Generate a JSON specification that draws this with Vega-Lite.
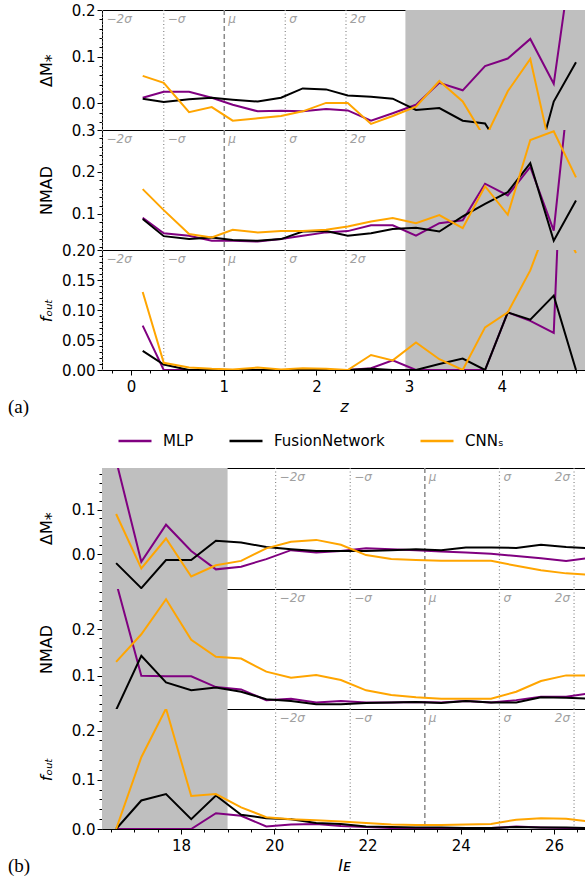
{
  "$schema": "https://vega.github.io/schema/vega-lite/v6.json",
  "padding": {"left": 7, "top": 2, "right": 0, "bottom": 0},
  "background": "white",
  "bounds": "flush",
  "spacing": 0,
  "datasets": {
    "a": [
      {"z": 0.126, "m": "MLP", "dm": 0.012, "nmad": 0.091, "fout": 0.074},
      {"z": 0.353, "m": "MLP", "dm": 0.025, "nmad": 0.054, "fout": 0.0},
      {"z": 0.626, "m": "MLP", "dm": 0.025, "nmad": 0.048, "fout": 0.0},
      {"z": 0.871, "m": "MLP", "dm": 0.012, "nmad": 0.036, "fout": 0.0},
      {"z": 1.097, "m": "MLP", "dm": -0.003, "nmad": 0.036, "fout": 0.0},
      {"z": 1.367, "m": "MLP", "dm": -0.017, "nmad": 0.034, "fout": 0.0},
      {"z": 1.618, "m": "MLP", "dm": -0.016, "nmad": 0.040, "fout": 0.0},
      {"z": 1.852, "m": "MLP", "dm": -0.017, "nmad": 0.048, "fout": 0.0},
      {"z": 2.104, "m": "MLP", "dm": -0.012, "nmad": 0.056, "fout": 0.0},
      {"z": 2.338, "m": "MLP", "dm": -0.015, "nmad": 0.059, "fout": 0.0},
      {"z": 2.589, "m": "MLP", "dm": -0.037, "nmad": 0.073, "fout": 0.003},
      {"z": 2.823, "m": "MLP", "dm": -0.021, "nmad": 0.073, "fout": 0.016},
      {"z": 3.074, "m": "MLP", "dm": -0.003, "nmad": 0.048, "fout": 0.0},
      {"z": 3.326, "m": "MLP", "dm": 0.044, "nmad": 0.078, "fout": 0.0},
      {"z": 3.578, "m": "MLP", "dm": 0.028, "nmad": 0.085, "fout": 0.0},
      {"z": 3.819, "m": "MLP", "dm": 0.080, "nmad": 0.172, "fout": 0.0},
      {"z": 4.064, "m": "MLP", "dm": 0.096, "nmad": 0.144, "fout": 0.096},
      {"z": 4.307, "m": "MLP", "dm": 0.138, "nmad": 0.212, "fout": 0.082},
      {"z": 4.560, "m": "MLP", "dm": 0.042, "nmad": 0.060, "fout": 0.062},
      {"z": 4.800, "m": "MLP", "dm": 0.38, "nmad": 0.56, "fout": 0.95},
      {"z": 0.126, "m": "FusionNetwork", "dm": 0.010, "nmad": 0.088, "fout": 0.032},
      {"z": 0.353, "m": "FusionNetwork", "dm": 0.003, "nmad": 0.047, "fout": 0.009},
      {"z": 0.626, "m": "FusionNetwork", "dm": 0.009, "nmad": 0.040, "fout": 0.0},
      {"z": 0.871, "m": "FusionNetwork", "dm": 0.012, "nmad": 0.044, "fout": 0.0},
      {"z": 1.097, "m": "FusionNetwork", "dm": 0.008, "nmad": 0.038, "fout": 0.0},
      {"z": 1.367, "m": "FusionNetwork", "dm": 0.004, "nmad": 0.036, "fout": 0.0},
      {"z": 1.618, "m": "FusionNetwork", "dm": 0.012, "nmad": 0.040, "fout": 0.0},
      {"z": 1.852, "m": "FusionNetwork", "dm": 0.032, "nmad": 0.058, "fout": 0.0},
      {"z": 2.104, "m": "FusionNetwork", "dm": 0.030, "nmad": 0.059, "fout": 0.0},
      {"z": 2.338, "m": "FusionNetwork", "dm": 0.017, "nmad": 0.048, "fout": 0.0},
      {"z": 2.589, "m": "FusionNetwork", "dm": 0.014, "nmad": 0.054, "fout": 0.002},
      {"z": 2.823, "m": "FusionNetwork", "dm": 0.010, "nmad": 0.064, "fout": 0.0},
      {"z": 3.074, "m": "FusionNetwork", "dm": -0.014, "nmad": 0.067, "fout": 0.0},
      {"z": 3.326, "m": "FusionNetwork", "dm": -0.010, "nmad": 0.058, "fout": 0.010},
      {"z": 3.578, "m": "FusionNetwork", "dm": -0.037, "nmad": 0.094, "fout": 0.019},
      {"z": 3.819, "m": "FusionNetwork", "dm": -0.043, "nmad": 0.124, "fout": 0.0},
      {"z": 4.064, "m": "FusionNetwork", "dm": -0.12, "nmad": 0.152, "fout": 0.096},
      {"z": 4.307, "m": "FusionNetwork", "dm": -0.18, "nmad": 0.221, "fout": 0.084},
      {"z": 4.560, "m": "FusionNetwork", "dm": 0.004, "nmad": 0.036, "fout": 0.124},
      {"z": 4.800, "m": "FusionNetwork", "dm": 0.088, "nmad": 0.132, "fout": 0.0},
      {"z": 0.126, "m": "CNNₛ", "dm": 0.059, "nmad": 0.159, "fout": 0.130},
      {"z": 0.353, "m": "CNNₛ", "dm": 0.044, "nmad": 0.109, "fout": 0.012},
      {"z": 0.626, "m": "CNNₛ", "dm": -0.019, "nmad": 0.052, "fout": 0.004},
      {"z": 0.871, "m": "CNNₛ", "dm": -0.008, "nmad": 0.044, "fout": 0.002},
      {"z": 1.097, "m": "CNNₛ", "dm": -0.037, "nmad": 0.062, "fout": 0.001},
      {"z": 1.367, "m": "CNNₛ", "dm": -0.032, "nmad": 0.056, "fout": 0.004},
      {"z": 1.618, "m": "CNNₛ", "dm": -0.027, "nmad": 0.059, "fout": 0.001},
      {"z": 1.852, "m": "CNNₛ", "dm": -0.017, "nmad": 0.059, "fout": 0.003},
      {"z": 2.104, "m": "CNNₛ", "dm": 0.001, "nmad": 0.062, "fout": 0.002},
      {"z": 2.338, "m": "CNNₛ", "dm": 0.001, "nmad": 0.070, "fout": 0.0},
      {"z": 2.589, "m": "CNNₛ", "dm": -0.044, "nmad": 0.082, "fout": 0.025},
      {"z": 2.823, "m": "CNNₛ", "dm": -0.027, "nmad": 0.090, "fout": 0.016},
      {"z": 3.074, "m": "CNNₛ", "dm": -0.007, "nmad": 0.078, "fout": 0.046},
      {"z": 3.326, "m": "CNNₛ", "dm": 0.048, "nmad": 0.097, "fout": 0.018},
      {"z": 3.578, "m": "CNNₛ", "dm": 0.004, "nmad": 0.066, "fout": 0.0},
      {"z": 3.819, "m": "CNNₛ", "dm": -0.075, "nmad": 0.166, "fout": 0.071},
      {"z": 4.064, "m": "CNNₛ", "dm": 0.026, "nmad": 0.098, "fout": 0.096},
      {"z": 4.307, "m": "CNNₛ", "dm": 0.095, "nmad": 0.276, "fout": 0.166},
      {"z": 4.560, "m": "CNNₛ", "dm": -0.13, "nmad": 0.297, "fout": 0.27},
      {"z": 4.800, "m": "CNNₛ", "dm": -0.10, "nmad": 0.187, "fout": 0.195}
    ],
    "b": [
      {"ie": 16.61, "m": "MLP", "dm": 0.21, "nmad": 0.30, "fout": 0.0},
      {"ie": 17.15, "m": "MLP", "dm": -0.017, "nmad": 0.100, "fout": 0.0},
      {"ie": 17.68, "m": "MLP", "dm": 0.066, "nmad": 0.099, "fout": 0.0},
      {"ie": 18.22, "m": "MLP", "dm": 0.007, "nmad": 0.099, "fout": 0.0},
      {"ie": 18.75, "m": "MLP", "dm": -0.034, "nmad": 0.076, "fout": 0.032},
      {"ie": 19.29, "m": "MLP", "dm": -0.028, "nmad": 0.071, "fout": 0.027},
      {"ie": 19.83, "m": "MLP", "dm": -0.011, "nmad": 0.048, "fout": 0.005},
      {"ie": 20.36, "m": "MLP", "dm": 0.009, "nmad": 0.051, "fout": 0.009},
      {"ie": 20.90, "m": "MLP", "dm": 0.004, "nmad": 0.043, "fout": 0.010},
      {"ie": 21.43, "m": "MLP", "dm": 0.007, "nmad": 0.046, "fout": 0.006},
      {"ie": 21.97, "m": "MLP", "dm": 0.013, "nmad": 0.043, "fout": 0.004},
      {"ie": 22.51, "m": "MLP", "dm": 0.011, "nmad": 0.043, "fout": 0.002},
      {"ie": 23.04, "m": "MLP", "dm": 0.009, "nmad": 0.044, "fout": 0.002},
      {"ie": 23.58, "m": "MLP", "dm": 0.006, "nmad": 0.043, "fout": 0.002},
      {"ie": 24.11, "m": "MLP", "dm": 0.004, "nmad": 0.046, "fout": 0.001},
      {"ie": 24.65, "m": "MLP", "dm": 0.001, "nmad": 0.043, "fout": 0.002},
      {"ie": 25.19, "m": "MLP", "dm": -0.004, "nmad": 0.048, "fout": 0.005},
      {"ie": 25.72, "m": "MLP", "dm": -0.009, "nmad": 0.055, "fout": 0.003},
      {"ie": 26.26, "m": "MLP", "dm": -0.015, "nmad": 0.055, "fout": 0.002},
      {"ie": 26.79, "m": "MLP", "dm": -0.008, "nmad": 0.063, "fout": 0.002},
      {"ie": 16.61, "m": "FusionNetwork", "dm": -0.020, "nmad": 0.027, "fout": 0.0},
      {"ie": 17.15, "m": "FusionNetwork", "dm": -0.076, "nmad": 0.143, "fout": 0.058},
      {"ie": 17.68, "m": "FusionNetwork", "dm": -0.013, "nmad": 0.086, "fout": 0.071},
      {"ie": 18.22, "m": "FusionNetwork", "dm": -0.013, "nmad": 0.069, "fout": 0.020},
      {"ie": 18.75, "m": "FusionNetwork", "dm": 0.030, "nmad": 0.075, "fout": 0.068},
      {"ie": 19.29, "m": "FusionNetwork", "dm": 0.026, "nmad": 0.066, "fout": 0.029},
      {"ie": 19.83, "m": "FusionNetwork", "dm": 0.016, "nmad": 0.050, "fout": 0.022},
      {"ie": 20.36, "m": "FusionNetwork", "dm": 0.011, "nmad": 0.046, "fout": 0.020},
      {"ie": 20.90, "m": "FusionNetwork", "dm": 0.007, "nmad": 0.039, "fout": 0.012},
      {"ie": 21.43, "m": "FusionNetwork", "dm": 0.007, "nmad": 0.039, "fout": 0.010},
      {"ie": 21.97, "m": "FusionNetwork", "dm": 0.007, "nmad": 0.042, "fout": 0.005},
      {"ie": 22.51, "m": "FusionNetwork", "dm": 0.009, "nmad": 0.043, "fout": 0.004},
      {"ie": 23.04, "m": "FusionNetwork", "dm": 0.011, "nmad": 0.044, "fout": 0.003},
      {"ie": 23.58, "m": "FusionNetwork", "dm": 0.009, "nmad": 0.042, "fout": 0.003},
      {"ie": 24.11, "m": "FusionNetwork", "dm": 0.015, "nmad": 0.046, "fout": 0.002},
      {"ie": 24.65, "m": "FusionNetwork", "dm": 0.015, "nmad": 0.043, "fout": 0.002},
      {"ie": 25.19, "m": "FusionNetwork", "dm": 0.014, "nmad": 0.043, "fout": 0.004},
      {"ie": 25.72, "m": "FusionNetwork", "dm": 0.021, "nmad": 0.054, "fout": 0.003},
      {"ie": 26.26, "m": "FusionNetwork", "dm": 0.016, "nmad": 0.053, "fout": 0.003},
      {"ie": 26.79, "m": "FusionNetwork", "dm": 0.013, "nmad": 0.051, "fout": 0.002},
      {"ie": 16.61, "m": "CNNₛ", "dm": 0.090, "nmad": 0.130, "fout": 0.0},
      {"ie": 17.15, "m": "CNNₛ", "dm": -0.032, "nmad": 0.189, "fout": 0.146},
      {"ie": 17.68, "m": "CNNₛ", "dm": 0.035, "nmad": 0.264, "fout": 0.245},
      {"ie": 18.22, "m": "CNNₛ", "dm": -0.050, "nmad": 0.177, "fout": 0.067},
      {"ie": 18.75, "m": "CNNₛ", "dm": -0.025, "nmad": 0.141, "fout": 0.071},
      {"ie": 19.29, "m": "CNNₛ", "dm": -0.015, "nmad": 0.137, "fout": 0.044},
      {"ie": 19.83, "m": "CNNₛ", "dm": 0.013, "nmad": 0.109, "fout": 0.024},
      {"ie": 20.36, "m": "CNNₛ", "dm": 0.028, "nmad": 0.096, "fout": 0.020},
      {"ie": 20.90, "m": "CNNₛ", "dm": 0.032, "nmad": 0.102, "fout": 0.018},
      {"ie": 21.43, "m": "CNNₛ", "dm": 0.021, "nmad": 0.091, "fout": 0.015},
      {"ie": 21.97, "m": "CNNₛ", "dm": -0.002, "nmad": 0.069, "fout": 0.012},
      {"ie": 22.51, "m": "CNNₛ", "dm": -0.011, "nmad": 0.059, "fout": 0.009},
      {"ie": 23.04, "m": "CNNₛ", "dm": -0.013, "nmad": 0.054, "fout": 0.008},
      {"ie": 23.58, "m": "CNNₛ", "dm": -0.015, "nmad": 0.051, "fout": 0.008},
      {"ie": 24.11, "m": "CNNₛ", "dm": -0.015, "nmad": 0.051, "fout": 0.009},
      {"ie": 24.65, "m": "CNNₛ", "dm": -0.015, "nmad": 0.051, "fout": 0.010},
      {"ie": 25.19, "m": "CNNₛ", "dm": -0.026, "nmad": 0.066, "fout": 0.019},
      {"ie": 25.72, "m": "CNNₛ", "dm": -0.036, "nmad": 0.089, "fout": 0.022},
      {"ie": 26.26, "m": "CNNₛ", "dm": -0.043, "nmad": 0.101, "fout": 0.021},
      {"ie": 26.79, "m": "CNNₛ", "dm": -0.046, "nmad": 0.101, "fout": 0.015}
    ],
    "shadeA": [{"x0": 2.96, "x1": 5.5}],
    "shadeB": [{"x0": 15.5, "x1": 19.0}],
    "sigA": [
      {"x": -0.308, "lab": "−2σ", "kind": "s", "al": "l"},
      {"x": 0.353, "lab": "−σ", "kind": "s", "al": "l"},
      {"x": 1.006, "lab": "μ", "kind": "m", "al": "l"},
      {"x": 1.664, "lab": "σ", "kind": "s", "al": "l"},
      {"x": 2.319, "lab": "2σ", "kind": "s", "al": "l"}
    ],
    "sigB": [
      {"x": 20.03, "lab": "−2σ", "kind": "s", "al": "l"},
      {"x": 21.63, "lab": "−σ", "kind": "s", "al": "l"},
      {"x": 23.23, "lab": "μ", "kind": "m", "al": "l"},
      {"x": 24.83, "lab": "σ", "kind": "s", "al": "l"},
      {"x": 26.43, "lab": "2σ", "kind": "s", "al": "r"}
    ]
  },
  "vconcat": [
    {
      "width": 484, "height": 120,
      "resolve": {"axis": {"x": "independent", "y": "independent"}},
      "layer": [
        {"data": {"name": "a"}, "mark": {"type": "line", "clip": true, "opacity": 0},
         "encoding": {
           "x": {"field": "z", "type": "quantitative", "scale": {"domain": [-0.313, 4.908], "nice": false, "zero": false}, "axis": null},
           "y": {"field": "dm", "type": "quantitative", "scale": {"domain": [-0.057, 0.2], "nice": false, "zero": false},
                 "axis": {"orient": "left", "title": "ΔM⁎", "titleX": -56, "titleY": 60, "titleBaseline": "middle", "titleAlign": "center", "values": [0, 0.1, 0.2], "format": ".1f"}}
         }},
        {"data": {"name": "a"}, "mark": {"type": "line", "clip": true, "opacity": 0},
         "encoding": {
           "x": {"field": "z", "type": "quantitative", "axis": null},
           "y": {"field": "dm", "type": "quantitative",
                 "axis": {"orient": "left", "title": null, "labels": false, "tickSize": 3, "values": [-0.04, -0.02, 0.02, 0.04, 0.06, 0.08, 0.12, 0.14, 0.16, 0.18]}}
         }},
        {"data": {"name": "shadeA"}, "mark": {"type": "rect", "color": "#bfbfbf", "clip": true},
         "encoding": {"x": {"field": "x0", "type": "quantitative", "axis": null}, "x2": {"field": "x1"}}},
        {"data": {"name": "sigA"}, "transform": [{"filter": "datum.kind == 's'"}], "mark": {"type": "rule", "color": "#8a8a8a", "strokeDash": [1, 2.5], "strokeWidth": 1.2},
         "encoding": {"x": {"field": "x", "type": "quantitative", "axis": null}}},
        {"data": {"name": "sigA"}, "transform": [{"filter": "datum.kind == 'm'"}], "mark": {"type": "rule", "color": "#8a8a8a", "strokeDash": [5, 3], "strokeWidth": 1.5},
         "encoding": {"x": {"field": "x", "type": "quantitative", "axis": null}}},
        {"data": {"name": "sigA"}, "mark": {"type": "text", "align": "left", "baseline": "top", "dx": 4, "dy": 4, "fontStyle": "italic", "fontSize": 12, "color": "#a0a0a0"},
         "encoding": {"x": {"field": "x", "type": "quantitative", "axis": null}, "y": {"datum": 0.2, "type": "quantitative", "axis": null}, "text": {"field": "lab"}}},
        {"data": {"name": "a"}, "mark": {"type": "line", "strokeWidth": 2, "clip": true},
         "encoding": {
           "x": {"field": "z", "type": "quantitative", "axis": null},
           "y": {"field": "dm", "type": "quantitative", "axis": null},
           "color": {"field": "m", "type": "nominal", "scale": {"domain": ["MLP", "FusionNetwork", "CNNₛ"], "range": ["#800080", "#000000", "#ffa500"]},
                     "legend": {"title": null, "orient": "none", "legendX": 15, "legendY": 413, "direction": "horizontal", "symbolType": "stroke", "symbolSize": 1089, "symbolStrokeWidth": 2.5, "labelFontSize": 15, "labelFont": "DejaVu Sans", "labelColor": "black", "labelOffset": 10, "columnPadding": 30, "padding": 0}}
         }}
      ]
    },
    {
      "width": 484, "height": 120,
      "resolve": {"axis": {"x": "independent", "y": "independent"}},
      "layer": [
        {"data": {"name": "a"}, "mark": {"type": "line", "clip": true, "opacity": 0},
         "encoding": {
           "x": {"field": "z", "type": "quantitative", "scale": {"domain": [-0.313, 4.908], "nice": false, "zero": false}, "axis": null},
           "y": {"field": "nmad", "type": "quantitative", "scale": {"domain": [0.014, 0.3], "nice": false, "zero": false},
                 "axis": {"orient": "left", "title": "NMAD", "titleX": -56, "titleY": 60, "titleBaseline": "middle", "titleAlign": "center", "values": [0.1, 0.2, 0.3], "format": ".1f"}}
         }},
        {"data": {"name": "a"}, "mark": {"type": "line", "clip": true, "opacity": 0},
         "encoding": {
           "x": {"field": "z", "type": "quantitative", "axis": null},
           "y": {"field": "nmad", "type": "quantitative",
                 "axis": {"orient": "left", "title": null, "labels": false, "tickSize": 3, "values": [0.02, 0.04, 0.06, 0.08, 0.12, 0.14, 0.16, 0.18, 0.22, 0.24, 0.26, 0.28]}}
         }},
        {"data": {"name": "shadeA"}, "mark": {"type": "rect", "color": "#bfbfbf", "clip": true},
         "encoding": {"x": {"field": "x0", "type": "quantitative", "axis": null}, "x2": {"field": "x1"}}},
        {"data": {"name": "sigA"}, "transform": [{"filter": "datum.kind == 's'"}], "mark": {"type": "rule", "color": "#8a8a8a", "strokeDash": [1, 2.5], "strokeWidth": 1.2},
         "encoding": {"x": {"field": "x", "type": "quantitative", "axis": null}}},
        {"data": {"name": "sigA"}, "transform": [{"filter": "datum.kind == 'm'"}], "mark": {"type": "rule", "color": "#8a8a8a", "strokeDash": [5, 3], "strokeWidth": 1.5},
         "encoding": {"x": {"field": "x", "type": "quantitative", "axis": null}}},
        {"data": {"name": "sigA"}, "mark": {"type": "text", "align": "left", "baseline": "top", "dx": 4, "dy": 4, "fontStyle": "italic", "fontSize": 12, "color": "#a0a0a0"},
         "encoding": {"x": {"field": "x", "type": "quantitative", "axis": null}, "y": {"datum": 0.3, "type": "quantitative", "axis": null}, "text": {"field": "lab"}}},
        {"data": {"name": "a"}, "mark": {"type": "line", "strokeWidth": 2, "clip": true},
         "encoding": {
           "x": {"field": "z", "type": "quantitative", "axis": null},
           "y": {"field": "nmad", "type": "quantitative", "axis": null},
           "color": {"field": "m", "type": "nominal", "scale": {"domain": ["MLP", "FusionNetwork", "CNNₛ"], "range": ["#800080", "#000000", "#ffa500"]}}
         }}
      ]
    },
    {
      "width": 484, "height": 120,
      "title": {"text": "(a)", "orient": "bottom", "anchor": "start", "frame": "group", "font": "Liberation Serif", "fontSize": 19, "fontWeight": "normal", "color": "black", "dx": -94, "offset": -16, "baseline": "top"},
      "resolve": {"axis": {"x": "independent", "y": "independent"}},
      "layer": [
        {"data": {"name": "a"}, "mark": {"type": "line", "clip": true, "opacity": 0},
         "encoding": {
           "x": {"field": "z", "type": "quantitative", "scale": {"domain": [-0.313, 4.908], "nice": false, "zero": false},
                 "axis": {"orient": "bottom", "title": "z", "titleFontStyle": "italic", "titlePadding": 4, "labelPadding": 4, "values": [0, 1, 2, 3, 4], "format": "d"}},
           "y": {"field": "fout", "type": "quantitative", "scale": {"domain": [0, 0.2], "nice": false, "zero": false},
                 "axis": {"orient": "left", "title": "fₒᵤₜ", "titleFontStyle": "italic", "titleX": -56, "titleY": 60, "titleBaseline": "middle", "titleAlign": "center", "values": [0, 0.05, 0.1, 0.15, 0.2], "format": ".2f"}}
         }},
        {"data": {"name": "a"}, "mark": {"type": "line", "clip": true, "opacity": 0},
         "encoding": {
           "x": {"field": "z", "type": "quantitative",
                 "axis": {"orient": "bottom", "title": null, "labels": false, "tickSize": 3, "values": [-0.2, 0.2, 0.4, 0.6, 0.8, 1.2, 1.4, 1.6, 1.8, 2.2, 2.4, 2.6, 2.8, 3.2, 3.4, 3.6, 3.8, 4.2, 4.4, 4.6, 4.8]}},
           "y": {"field": "fout", "type": "quantitative",
                 "axis": {"orient": "left", "title": null, "labels": false, "tickSize": 3, "values": [0.01, 0.02, 0.03, 0.04, 0.06, 0.07, 0.08, 0.09, 0.11, 0.12, 0.13, 0.14, 0.16, 0.17, 0.18, 0.19]}}
         }},
        {"data": {"name": "shadeA"}, "mark": {"type": "rect", "color": "#bfbfbf", "clip": true},
         "encoding": {"x": {"field": "x0", "type": "quantitative", "axis": null}, "x2": {"field": "x1"}}},
        {"data": {"name": "sigA"}, "transform": [{"filter": "datum.kind == 's'"}], "mark": {"type": "rule", "color": "#8a8a8a", "strokeDash": [1, 2.5], "strokeWidth": 1.2},
         "encoding": {"x": {"field": "x", "type": "quantitative", "axis": null}}},
        {"data": {"name": "sigA"}, "transform": [{"filter": "datum.kind == 'm'"}], "mark": {"type": "rule", "color": "#8a8a8a", "strokeDash": [5, 3], "strokeWidth": 1.5},
         "encoding": {"x": {"field": "x", "type": "quantitative", "axis": null}}},
        {"data": {"name": "sigA"}, "mark": {"type": "text", "align": "left", "baseline": "top", "dx": 4, "dy": 4, "fontStyle": "italic", "fontSize": 12, "color": "#a0a0a0"},
         "encoding": {"x": {"field": "x", "type": "quantitative", "axis": null}, "y": {"datum": 0.2, "type": "quantitative", "axis": null}, "text": {"field": "lab"}}},
        {"data": {"name": "a"}, "mark": {"type": "line", "strokeWidth": 2, "clip": true},
         "encoding": {
           "x": {"field": "z", "type": "quantitative", "axis": null},
           "y": {"field": "fout", "type": "quantitative", "axis": null},
           "color": {"field": "m", "type": "nominal", "scale": {"domain": ["MLP", "FusionNetwork", "CNNₛ"], "range": ["#800080", "#000000", "#ffa500"]}}
         }}
      ]
    },
    {
      "width": 484, "height": 98,
      "view": {"stroke": null},
      "data": {"values": [{"v": 0}]},
      "mark": {"type": "point", "opacity": 0},
      "encoding": {}
    },
    {
      "width": 484, "height": 121,
      "resolve": {"axis": {"x": "independent", "y": "independent"}},
      "layer": [
        {"data": {"name": "b"}, "mark": {"type": "line", "clip": true, "opacity": 0},
         "encoding": {
           "x": {"field": "ie", "type": "quantitative", "scale": {"domain": [16.307, 26.686], "nice": false, "zero": false}, "axis": null},
           "y": {"field": "dm", "type": "quantitative", "scale": {"domain": [-0.078, 0.193], "nice": false, "zero": false},
                 "axis": {"orient": "left", "title": "ΔM⁎", "titleX": -56, "titleY": 60, "titleBaseline": "middle", "titleAlign": "center", "values": [0, 0.1], "format": ".1f"}}
         }},
        {"data": {"name": "b"}, "mark": {"type": "line", "clip": true, "opacity": 0},
         "encoding": {
           "x": {"field": "ie", "type": "quantitative", "axis": null},
           "y": {"field": "dm", "type": "quantitative",
                 "axis": {"orient": "left", "title": null, "labels": false, "tickSize": 3, "values": [-0.06, -0.04, -0.02, 0.02, 0.04, 0.06, 0.08, 0.12, 0.14, 0.16, 0.18]}}
         }},
        {"data": {"name": "shadeB"}, "mark": {"type": "rect", "color": "#bfbfbf", "clip": true},
         "encoding": {"x": {"field": "x0", "type": "quantitative", "axis": null}, "x2": {"field": "x1"}}},
        {"data": {"name": "sigB"}, "transform": [{"filter": "datum.kind == 's'"}], "mark": {"type": "rule", "color": "#8a8a8a", "strokeDash": [1, 2.5], "strokeWidth": 1.2},
         "encoding": {"x": {"field": "x", "type": "quantitative", "axis": null}}},
        {"data": {"name": "sigB"}, "transform": [{"filter": "datum.kind == 'm'"}], "mark": {"type": "rule", "color": "#8a8a8a", "strokeDash": [5, 3], "strokeWidth": 1.5},
         "encoding": {"x": {"field": "x", "type": "quantitative", "axis": null}}},
        {"data": {"name": "sigB"}, "transform": [{"filter": "datum.al == 'l'"}], "mark": {"type": "text", "align": "left", "baseline": "top", "dx": 4, "dy": 4, "fontStyle": "italic", "fontSize": 12, "color": "#a0a0a0"},
         "encoding": {"x": {"field": "x", "type": "quantitative", "axis": null}, "y": {"datum": 0.193, "type": "quantitative", "axis": null}, "text": {"field": "lab"}}},
        {"data": {"name": "sigB"}, "transform": [{"filter": "datum.al == 'r'"}], "mark": {"type": "text", "align": "right", "baseline": "top", "dx": -4, "dy": 4, "fontStyle": "italic", "fontSize": 12, "color": "#a0a0a0"},
         "encoding": {"x": {"field": "x", "type": "quantitative", "axis": null}, "y": {"datum": 0.193, "type": "quantitative", "axis": null}, "text": {"field": "lab"}}},
        {"data": {"name": "b"}, "mark": {"type": "line", "strokeWidth": 2, "clip": true},
         "encoding": {
           "x": {"field": "ie", "type": "quantitative", "axis": null},
           "y": {"field": "dm", "type": "quantitative", "axis": null},
           "color": {"field": "m", "type": "nominal", "scale": {"domain": ["MLP", "FusionNetwork", "CNNₛ"], "range": ["#800080", "#000000", "#ffa500"]}}
         }}
      ]
    },
    {
      "width": 484, "height": 120,
      "resolve": {"axis": {"x": "independent", "y": "independent"}},
      "layer": [
        {"data": {"name": "b"}, "mark": {"type": "line", "clip": true, "opacity": 0},
         "encoding": {
           "x": {"field": "ie", "type": "quantitative", "scale": {"domain": [16.307, 26.686], "nice": false, "zero": false}, "axis": null},
           "y": {"field": "nmad", "type": "quantitative", "scale": {"domain": [0.029, 0.286], "nice": false, "zero": false},
                 "axis": {"orient": "left", "title": "NMAD", "titleX": -56, "titleY": 60, "titleBaseline": "middle", "titleAlign": "center", "values": [0.1, 0.2], "format": ".1f"}}
         }},
        {"data": {"name": "b"}, "mark": {"type": "line", "clip": true, "opacity": 0},
         "encoding": {
           "x": {"field": "ie", "type": "quantitative", "axis": null},
           "y": {"field": "nmad", "type": "quantitative",
                 "axis": {"orient": "left", "title": null, "labels": false, "tickSize": 3, "values": [0.04, 0.06, 0.08, 0.12, 0.14, 0.16, 0.18, 0.22, 0.24, 0.26, 0.28]}}
         }},
        {"data": {"name": "shadeB"}, "mark": {"type": "rect", "color": "#bfbfbf", "clip": true},
         "encoding": {"x": {"field": "x0", "type": "quantitative", "axis": null}, "x2": {"field": "x1"}}},
        {"data": {"name": "sigB"}, "transform": [{"filter": "datum.kind == 's'"}], "mark": {"type": "rule", "color": "#8a8a8a", "strokeDash": [1, 2.5], "strokeWidth": 1.2},
         "encoding": {"x": {"field": "x", "type": "quantitative", "axis": null}}},
        {"data": {"name": "sigB"}, "transform": [{"filter": "datum.kind == 'm'"}], "mark": {"type": "rule", "color": "#8a8a8a", "strokeDash": [5, 3], "strokeWidth": 1.5},
         "encoding": {"x": {"field": "x", "type": "quantitative", "axis": null}}},
        {"data": {"name": "sigB"}, "transform": [{"filter": "datum.al == 'l'"}], "mark": {"type": "text", "align": "left", "baseline": "top", "dx": 4, "dy": 4, "fontStyle": "italic", "fontSize": 12, "color": "#a0a0a0"},
         "encoding": {"x": {"field": "x", "type": "quantitative", "axis": null}, "y": {"datum": 0.286, "type": "quantitative", "axis": null}, "text": {"field": "lab"}}},
        {"data": {"name": "sigB"}, "transform": [{"filter": "datum.al == 'r'"}], "mark": {"type": "text", "align": "right", "baseline": "top", "dx": -4, "dy": 4, "fontStyle": "italic", "fontSize": 12, "color": "#a0a0a0"},
         "encoding": {"x": {"field": "x", "type": "quantitative", "axis": null}, "y": {"datum": 0.286, "type": "quantitative", "axis": null}, "text": {"field": "lab"}}},
        {"data": {"name": "b"}, "mark": {"type": "line", "strokeWidth": 2, "clip": true},
         "encoding": {
           "x": {"field": "ie", "type": "quantitative", "axis": null},
           "y": {"field": "nmad", "type": "quantitative", "axis": null},
           "color": {"field": "m", "type": "nominal", "scale": {"domain": ["MLP", "FusionNetwork", "CNNₛ"], "range": ["#800080", "#000000", "#ffa500"]}}
         }}
      ]
    },
    {
      "width": 484, "height": 120,
      "title": {"text": "(b)", "orient": "bottom", "anchor": "start", "frame": "group", "font": "Liberation Serif", "fontSize": 19, "fontWeight": "normal", "color": "black", "dx": -94, "offset": -16, "baseline": "top"},
      "resolve": {"axis": {"x": "independent", "y": "independent"}},
      "layer": [
        {"data": {"name": "b"}, "mark": {"type": "line", "clip": true, "opacity": 0},
         "encoding": {
           "x": {"field": "ie", "type": "quantitative", "scale": {"domain": [16.307, 26.686], "nice": false, "zero": false},
                 "axis": {"orient": "bottom", "title": "Iᴇ", "titleFontStyle": "italic", "titlePadding": 4, "labelPadding": 4, "values": [18, 20, 22, 24, 26], "format": "d"}},
           "y": {"field": "fout", "type": "quantitative", "scale": {"domain": [0, 0.244], "nice": false, "zero": false},
                 "axis": {"orient": "left", "title": "fₒᵤₜ", "titleFontStyle": "italic", "titleX": -56, "titleY": 60, "titleBaseline": "middle", "titleAlign": "center", "values": [0, 0.1, 0.2], "format": ".1f"}}
         }},
        {"data": {"name": "b"}, "mark": {"type": "line", "clip": true, "opacity": 0},
         "encoding": {
           "x": {"field": "ie", "type": "quantitative",
                 "axis": {"orient": "bottom", "title": null, "labels": false, "tickSize": 3, "values": [16.5, 17, 17.5, 18.5, 19, 19.5, 20.5, 21, 21.5, 22.5, 23, 23.5, 24.5, 25, 25.5, 26.5]}},
           "y": {"field": "fout", "type": "quantitative",
                 "axis": {"orient": "left", "title": null, "labels": false, "tickSize": 3, "values": [0.02, 0.04, 0.06, 0.08, 0.12, 0.14, 0.16, 0.18, 0.22, 0.24]}}
         }},
        {"data": {"name": "shadeB"}, "mark": {"type": "rect", "color": "#bfbfbf", "clip": true},
         "encoding": {"x": {"field": "x0", "type": "quantitative", "axis": null}, "x2": {"field": "x1"}}},
        {"data": {"name": "sigB"}, "transform": [{"filter": "datum.kind == 's'"}], "mark": {"type": "rule", "color": "#8a8a8a", "strokeDash": [1, 2.5], "strokeWidth": 1.2},
         "encoding": {"x": {"field": "x", "type": "quantitative", "axis": null}}},
        {"data": {"name": "sigB"}, "transform": [{"filter": "datum.kind == 'm'"}], "mark": {"type": "rule", "color": "#8a8a8a", "strokeDash": [5, 3], "strokeWidth": 1.5},
         "encoding": {"x": {"field": "x", "type": "quantitative", "axis": null}}},
        {"data": {"name": "sigB"}, "transform": [{"filter": "datum.al == 'l'"}], "mark": {"type": "text", "align": "left", "baseline": "top", "dx": 4, "dy": 4, "fontStyle": "italic", "fontSize": 12, "color": "#a0a0a0"},
         "encoding": {"x": {"field": "x", "type": "quantitative", "axis": null}, "y": {"datum": 0.244, "type": "quantitative", "axis": null}, "text": {"field": "lab"}}},
        {"data": {"name": "sigB"}, "transform": [{"filter": "datum.al == 'r'"}], "mark": {"type": "text", "align": "right", "baseline": "top", "dx": -4, "dy": 4, "fontStyle": "italic", "fontSize": 12, "color": "#a0a0a0"},
         "encoding": {"x": {"field": "x", "type": "quantitative", "axis": null}, "y": {"datum": 0.244, "type": "quantitative", "axis": null}, "text": {"field": "lab"}}},
        {"data": {"name": "b"}, "mark": {"type": "line", "strokeWidth": 2, "clip": true},
         "encoding": {
           "x": {"field": "ie", "type": "quantitative", "axis": null},
           "y": {"field": "fout", "type": "quantitative", "axis": null},
           "color": {"field": "m", "type": "nominal", "scale": {"domain": ["MLP", "FusionNetwork", "CNNₛ"], "range": ["#800080", "#000000", "#ffa500"]}}
         }}
      ]
    }
  ],
  "config": {
    "font": "DejaVu Sans",
    "view": {"stroke": "black", "strokeWidth": 1},
    "axis": {"grid": false, "domain": false, "tickColor": "black", "tickWidth": 1, "tickSize": 5, "labelFont": "DejaVu Sans", "labelFontSize": 15, "labelColor": "black",
             "titleFont": "DejaVu Sans", "titleFontSize": 16, "titleFontWeight": "normal", "titleColor": "black", "labelPadding": 2, "labelFlush": false, "labelOverlap": false}
  }
}
